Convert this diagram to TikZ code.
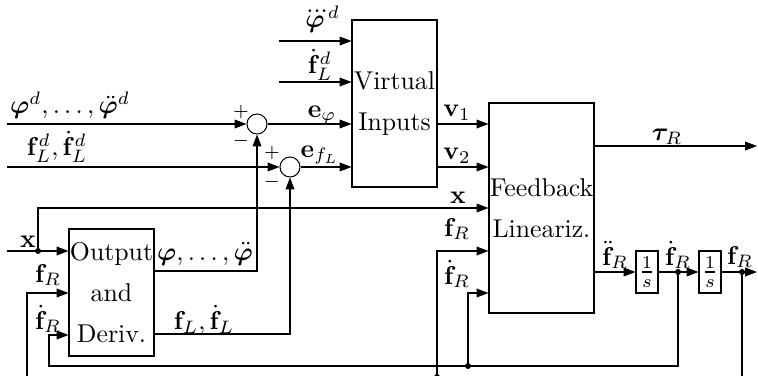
\documentclass[tikz,border=0pt]{standalone}
\usepackage{amsmath}
\usepackage{bm}
\usetikzlibrary{arrows.meta,calc}
\newcommand\pxu{0.388pt}
\begin{document}
\begin{tikzpicture}[x=\pxu,y=-\pxu,
  arr/.style={-{Triangle[length=4.6pt,width=3.4pt]}},
  block/.style={draw, inner sep=0pt, align=center},
  sumc/.style={draw, circle, minimum size=20*\pxu, inner sep=0pt},
  integ/.style={draw, minimum width=22*\pxu, minimum height=42*\pxu, inner sep=0pt},
  lbl/.style={inner sep=0pt},
  sgn/.style={inner sep=0pt, font=\scriptsize},
  jdot/.style={circle, fill, inner sep=0pt, minimum size=6*\pxu}]
\useasboundingbox (0,0) rectangle (758,375);
\clip (0,0) rectangle (758,375);

% blocks
\node[block, minimum width=85*\pxu, minimum height=167*\pxu] (vi) at (394.5,103.5) {Virtual\\[4pt]Inputs};
\node[block, minimum width=105*\pxu, minimum height=210*\pxu] (fl) at (541.5,208) {Feedback\\[4pt]Lineariz.};
\node[block, minimum width=85*\pxu, minimum height=127*\pxu] (od) at (111.5,292.5) {Output\\[4pt]and\\[4pt]Deriv.};
\node[sumc] (s1) at (257,124) {};
\node[sumc] (s2) at (290,167) {};
\node[integ] (i1) at (647,272) {$\frac{1}{s}$};
\node[integ] (i2) at (710,272) {$\frac{1}{s}$};

% coordinates and junctions
\coordinate (a1) at (279,41);
\coordinate (a2) at (279,82);
\coordinate (b1) at (7,124);
\coordinate (b2) at (7,167);
\coordinate (xin) at (7,251);
\node[jdot] (xdot) at (38,251) {};
\coordinate (xup) at (38,208);
\coordinate (tauend) at (757,146);
\coordinate (fRend) at (757,272);
\coordinate (phiy) at (0,271);
\coordinate (fly) at (0,334);
\node[jdot] (d1) at (678,272) {};
\node[jdot] (d2) at (742,272) {};
\coordinate (c1) at (678,366);
\coordinate (c1l) at (49,366);
\coordinate (c1in) at (49,335);
\node[jdot] (d3) at (468,366) {};
\coordinate (d3up) at (468,293);
\coordinate (c2) at (742,377);
\coordinate (c2l) at (27,377);
\coordinate (c2in) at (27,293);
\node[jdot] (d4) at (437,377) {};
\coordinate (d4up) at (437,251);

% connectors
\draw[arr] (a1) -- (a1 -| vi.west);
\draw[arr] (a2) -- (a2 -| vi.west);
\draw[arr] (b1) -- (s1.west);
\draw[arr] (b2) -- (s2.west);
\draw[arr] (s1.east) -- (s1 -| vi.west);
\draw[arr] (s2.east) -- (s2 -| vi.west);
\draw[arr] (s1 -| vi.east) -- (s1 -| fl.west);
\draw[arr] (s2 -| vi.east) -- (s2 -| fl.west);
\draw[arr] (fl.east |- tauend) -- (tauend);
\draw[arr] (xin) -- (xin -| od.west);
\draw[arr] (xdot.center) |- (fl.west |- xup);
\draw[arr] (od.east |- phiy) -| (s1.south);
\draw[arr] (od.east |- fly) -| (s2.south);
\draw[arr] (fl.east |- i1) -- (i1.west);
\draw[arr] (i1.east) -- (i2.west);
\draw[arr] (i2.east) -- (fRend);
\draw[arr] (d1.center) -- (c1) -- (c1l) |- (od.west |- c1in);
\draw[arr] (d3.center) |- (fl.west |- d3up);
\draw[arr] (d2.center) -- (c2) -- (c2l) |- (od.west |- c2in);
\draw[arr] (d4.center) |- (fl.west |- d4up);

% signs
\node[sgn] (p1) at (241,112) {$+$};
\node[sgn] (m1) at (241,141) {$-$};
\node[sgn] (p2) at (272,153) {$+$};
\node[sgn] (m2) at (272,182) {$-$};

% labels
\node[lbl] (l1) at (321,19) {$\dddot{\bm{\varphi}}^d$};
\node[lbl] (l2) at (320,65) {$\dot{\mathbf{f}}_L^d$};
\node[lbl] (l3) at (70,105) {$\bm{\varphi}^d,\dots,\ddot{\bm{\varphi}}^d$};
\node[lbl] (l4) at (57,147) {$\mathbf{f}_L^d,\dot{\mathbf{f}}_L^d$};
\node[lbl] (l5) at (322,115) {$\mathbf{e}_\varphi$};
\node[lbl] (l6) at (320,155) {$\mathbf{e}_{f_L}$};
\node[lbl] (l7) at (457,113) {$\mathbf{v}_1$};
\node[lbl] (l8) at (457,156) {$\mathbf{v}_2$};
\node[lbl] (l9) at (667,137) {$\bm{\tau}_R$};
\node[lbl] (l10) at (458,198) {$\mathbf{x}$};
\node[lbl] (l11) at (457,229) {$\mathbf{f}_R$};
\node[lbl] (l12) at (457,274) {$\dot{\mathbf{f}}_R$};
\node[lbl] (l13) at (615,255) {$\ddot{\mathbf{f}}_R$};
\node[lbl] (l14) at (678,255) {$\dot{\mathbf{f}}_R$};
\node[lbl] (l15) at (740,257) {$\mathbf{f}_R$};
\node[lbl] (l16) at (28,242) {$\mathbf{x}$};
\node[lbl] (l17) at (48,275) {$\mathbf{f}_R$};
\node[lbl] (l18) at (48,319) {$\dot{\mathbf{f}}_R$};
\node[lbl] (l19) at (205,254) {$\bm{\varphi},\dots,\ddot{\bm{\varphi}}$};
\node[lbl] (l20) at (204,320) {$\mathbf{f}_L,\dot{\mathbf{f}}_L$};
\end{tikzpicture}
\end{document}
